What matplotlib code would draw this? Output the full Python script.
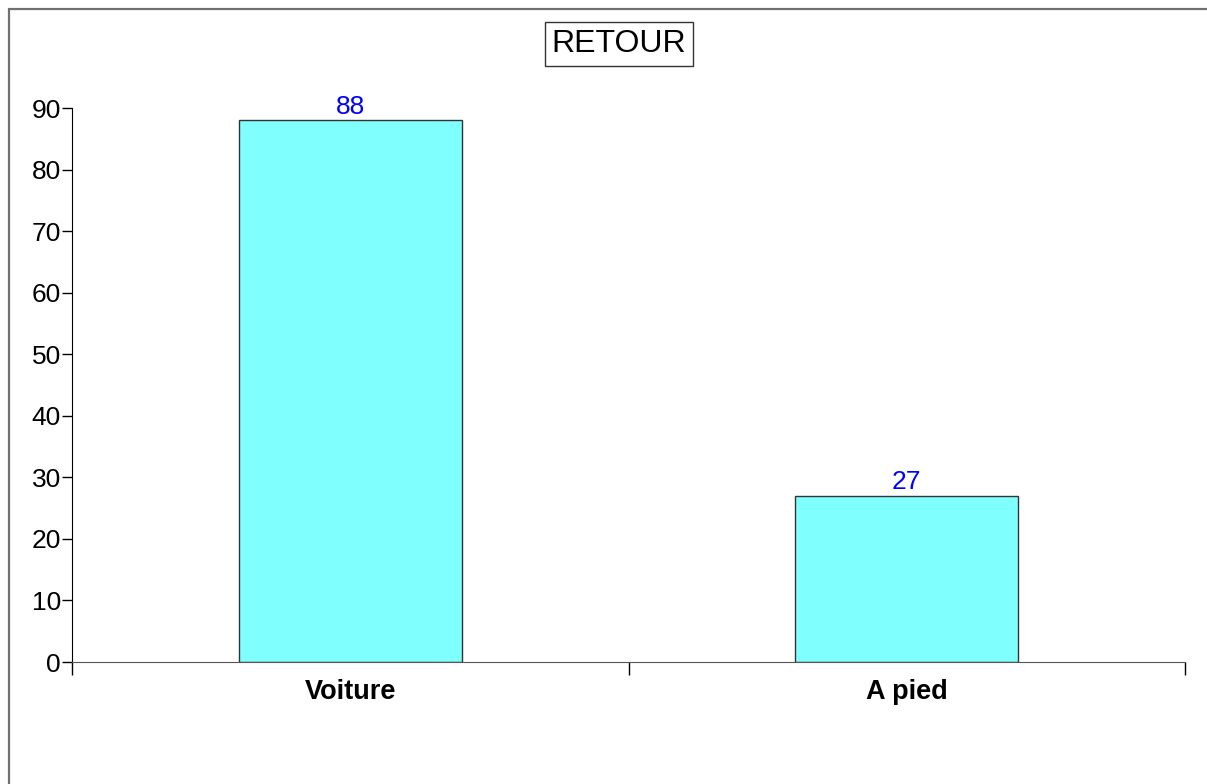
import matplotlib
matplotlib.use('Agg')
from matplotlib import pyplot as plt
from matplotlib.patches import Rectangle

categories = ['Voiture', 'A pied']
values = [88, 27]
y_ticks = [0, 10, 20, 30, 40, 50, 60, 70, 80, 90]

plt.rcParams['font.family'] = ['Liberation Sans', 'DejaVu Sans']

W, H = 1207, 784
fig = plt.figure(dpi=100, figsize=(W / 100, H / 100))

# outer frame (only top and left visible in reference)
fig.patches.append(Rectangle((9 / W, -0.01), 1.02, 1 - 9 / H + 0.01,
                             transform=fig.transFigure, fill=False,
                             edgecolor='#707070', linewidth=1.6))

ax = fig.add_axes([72 / W, (H - 662) / H, (1185 - 72) / W, (662 - 108) / H])

x = list(range(len(categories)))
bars = ax.bar(x, values, width=0.4, color='#80FFFF', edgecolor='#333333', linewidth=1)
ax.bar_label(bars, labels=[str(v) for v in values], padding=1, color='#0000FF', fontsize=19)

ax.set_xlim(-0.5, len(categories) - 0.5)
ax.set_ylim(0, 90)
ax.set_yticks(y_ticks)
ax.tick_params(axis='y', which='major', direction='out', length=7, width=1, pad=1, labelsize=19)

ax.set_xticks(x)
ax.set_xticklabels(categories, fontsize=19.5, fontweight='bold')
ax.set_xticks([i - 0.5 for i in range(len(categories) + 1)], minor=True)
ax.tick_params(axis='x', which='major', length=0, pad=12)
ax.tick_params(axis='x', which='minor', direction='out', length=9, width=1)

ax.spines['top'].set_visible(False)
ax.spines['right'].set_visible(False)
ax.spines['left'].set_color('black')
ax.spines['bottom'].set_color('#555555')

fig.text((546 + 692) / 2 / W, 1 - 44 / H, 'RETOUR', fontsize=23, ha='center', va='center',
         bbox=dict(boxstyle='square,pad=0.22', facecolor='white', edgecolor='#333333', linewidth=1))

fig.savefig('out.png', dpi=100)
